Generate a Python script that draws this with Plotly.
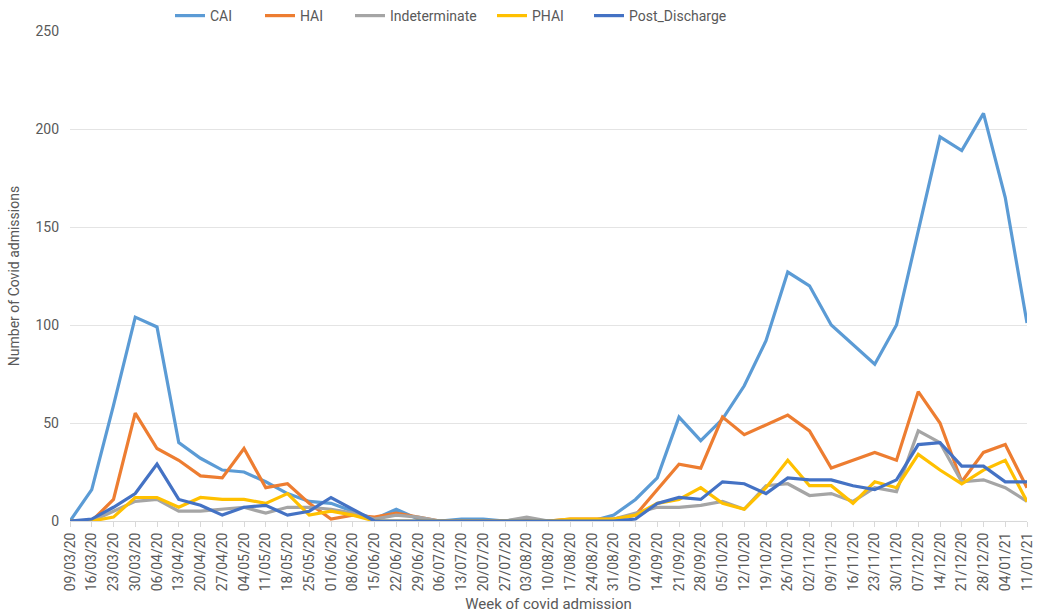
import plotly.graph_objects as go

weeks = [
    "09/03/20", "16/03/20", "23/03/20", "30/03/20", "06/04/20", "13/04/20",
    "20/04/20", "27/04/20", "04/05/20", "11/05/20", "18/05/20", "25/05/20",
    "01/06/20", "08/06/20", "15/06/20", "22/06/20", "29/06/20", "06/07/20",
    "13/07/20", "20/07/20", "27/07/20", "03/08/20", "10/08/20", "17/08/20",
    "24/08/20", "31/08/20", "07/09/20", "14/09/20", "21/09/20", "28/09/20",
    "05/10/20", "12/10/20", "19/10/20", "26/10/20", "02/11/20", "09/11/20",
    "16/11/20", "23/11/20", "30/11/20", "07/12/20", "14/12/20", "21/12/20",
    "28/12/20", "04/01/21", "11/01/21",
]

cai = [0, 16, 59, 104, 99, 40, 32, 26, 25, 20, 14, 10, 9, 5, 1, 6, 1, 0, 1, 1,
       0, 1, 0, 0, 0, 3, 11, 22, 53, 41, 52, 69, 92, 127, 120, 100, 90, 80, 100,
       148, 196, 189, 208, 165, 101]
hai = [0, 0, 11, 55, 37, 31, 23, 22, 37, 17, 19, 9, 1, 3, 2, 4, 2, 0, 0, 0,
       0, 0, 0, 1, 1, 1, 3, 16, 29, 27, 53, 44, 49, 54, 46, 27, 31, 35, 31,
       66, 50, 20, 35, 39, 17]
indeterminate = [0, 0, 5, 10, 11, 5, 5, 6, 7, 4, 7, 7, 6, 4, 1, 3, 2, 0, 0, 0,
                 0, 2, 0, 0, 0, 1, 4, 7, 7, 8, 10, 6, 18, 19, 13, 14, 10, 17, 15,
                 46, 40, 20, 21, 17, 10]
phai = [0, 0, 2, 12, 12, 7, 12, 11, 11, 9, 14, 3, 5, 3, 0, 0, 0, 0, 0, 0,
        0, 0, 0, 1, 1, 1, 3, 9, 11, 17, 9, 6, 17, 31, 18, 18, 9, 20, 17,
        34, 26, 19, 26, 31, 10]
post_discharge = [0, 1, 7, 14, 29, 11, 8, 3, 7, 8, 3, 5, 12, 6, 0, 0, 0, 0, 0, 0,
                  0, 0, 0, 0, 0, 0, 1, 9, 12, 11, 20, 19, 14, 22, 21, 21, 18, 16, 21,
                  39, 40, 28, 28, 20, 20]

series = [
    ("CAI", cai, "#5B9BD5"),
    ("HAI", hai, "#ED7D31"),
    ("Indeterminate", indeterminate, "#A5A5A5"),
    ("PHAI", phai, "#FFC000"),
    ("Post_Discharge", post_discharge, "#4472C4"),
]

# left edge (px) of each legend entry along the top row
legend_x = [170, 260, 350, 492, 589]

W, H = 1041, 614
FONT = "Liberation Sans Narrow, Roboto, Arial"
GREY = "#595959"

fig = go.Figure()
legend_layouts = {}
for k, (name, vals, color) in enumerate(series):
    lg = "legend" if k == 0 else f"legend{k + 1}"
    fig.add_trace(go.Scatter(
        x=weeks, y=vals, name=name, mode="lines",
        line=dict(color=color, width=3.2),
        legend=lg,
    ))
    legend_layouts[lg] = dict(
        xref="container", yref="container",
        x=legend_x[k] / W, y=1 - 16 / H,
        xanchor="left", yanchor="middle",
        orientation="h", itemwidth=30,
        font=dict(family=FONT, size=14, color=GREY),
        bgcolor="rgba(0,0,0,0)", tracegroupgap=0,
    )

fig.update_layout(
    width=W, height=H,
    margin=dict(l=70, r=14, t=31, b=93, autoexpand=False),
    paper_bgcolor="white", plot_bgcolor="white",
    font=dict(family=FONT, color=GREY, size=14),
    showlegend=True,
    **legend_layouts,
)

fig.update_xaxes(
    type="category", range=[0, len(weeks) - 1],
    tickangle=-90, tickfont=dict(size=14, color=GREY, family=FONT),
    showgrid=False, showline=True, linecolor="#D9D9D9", linewidth=1,
    ticks="outside", ticklen=5, tickcolor="#D9D9D9",
    title=dict(text="Week of covid admission", font=dict(size=15, color=GREY), standoff=8),
    zeroline=False,
)
fig.update_yaxes(
    range=[0, 250], dtick=50,
    showgrid=True, gridcolor="#E4E4E4", gridwidth=1,
    zeroline=False, showline=False,
    tickfont=dict(size=14, color=GREY, family=FONT),
    ticklabelstandoff=10,
    title=dict(text="Number of Covid admissions", font=dict(size=14, color=GREY), standoff=12),
)

fig.write_html("out.html")
